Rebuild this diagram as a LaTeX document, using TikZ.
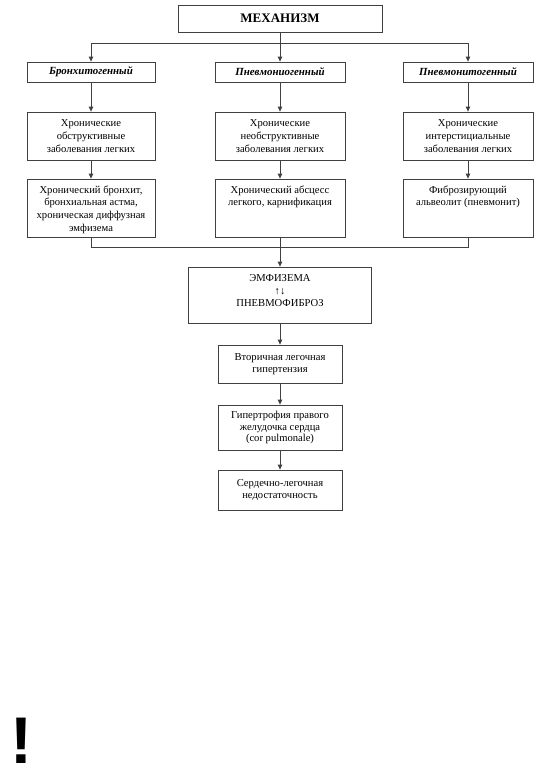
\documentclass[tikz,border=0pt]{standalone}
\usepackage{fontspec}
\setmainfont{Liberation Serif}
\newfontfamily\exfont{Liberation Sans}
\usetikzlibrary{arrows.meta}
\begin{document}
\begin{tikzpicture}[x=1pt,y=-1pt,
  line/.style={draw=black!75,line width=0.8pt},
  arr/.style={line,-{Triangle[length=5pt,width=4.5pt]}},
  box/.style={line,rectangle,inner sep=2pt,align=center,font=\fontsize{10.6}{12.8}\selectfont},
  headbox/.style={box,minimum width=128pt,minimum height=20pt,font=\bfseries\itshape\fontsize{10.9}{12}\selectfont},
  midbox/.style={box,minimum width=128pt,minimum height=48pt},
  lowbox/.style={box,minimum width=128pt,minimum height=58pt},
  inbox/.style={align=center,inner sep=0pt,font=\fontsize{10.6}{12.6}\selectfont},
  cbox/.style={box,minimum width=124pt,font=\fontsize{10.6}{12}\selectfont}
]
\useasboundingbox (0,0) rectangle (536,777);

\node[box,minimum width=204pt,minimum height=27pt,font=\bfseries\fontsize{13}{14}\selectfont] (mech) at (280,18.5) {МЕХАНИЗМ};

\node[headbox] (a2) at (91,72) {Бронхитогенный};
\node[headbox,minimum width=130pt] (b2) at (280,72) {Пневмониогенный};
\node[headbox,minimum width=130pt] (c2) at (468,72) {Пневмонитогенный};

\node[midbox] (a3) at (91,136) {Хронические\\обструктивные\\заболевания легких};
\node[midbox,minimum width=130pt] (b3) at (280,136) {Хронические\\необструктивные\\заболевания легких};
\node[midbox,minimum width=130pt] (c3) at (468,136) {Хронические\\интерстициальные\\заболевания легких};

\node[lowbox] (a4) at (91,208) {};
\node[lowbox,minimum width=130pt] (b4) at (280,208) {};
\node[lowbox,minimum width=130pt] (c4) at (468,208) {};
\node[inbox,anchor=north] (a4t) at ([yshift=-7pt]a4.north) {Хронический бронхит,\\бронхиальная астма,\\хроническая диффузная\\эмфизема};
\node[inbox,anchor=north] (b4t) at ([yshift=-7pt]b4.north) {Хронический абсцесс\\легкого, карнификация};
\node[inbox,anchor=north] (c4t) at ([yshift=-7pt]c4.north) {Фиброзирующий\\альвеолит (пневмонит)};

\node[box,minimum width=183pt,minimum height=56pt] (emf) at (280,295) {};
\node[inbox,font=\fontsize{10.6}{12.5}\selectfont] (emft) at ([yshift=4pt]emf.center) {ЭМФИЗЕМА\\↑↓\\ПНЕВМОФИБРОЗ};

\node[cbox,minimum height=38pt] (vt) at (280,364) {Вторичная легочная\\гипертензия};
\node[cbox,minimum height=45pt,font=\fontsize{10.6}{11.6}\selectfont] (gp) at (280,427.5) {Гипертрофия правого\\желудочка сердца\\(cor pulmonale)};
\node[cbox,minimum height=40pt] (sd) at (280,490) {Сердечно-легочная\\недостаточность};

\coordinate (split) at (280,43);
\coordinate (join) at (280,247);

\draw[line] (mech) -- (split);
\draw[arr] (split) -| (a2.north);
\draw[arr] (split) -| (c2.north);
\draw[arr] (split) -- (b2.north);

\draw[arr] (a2) -- (a3);
\draw[arr] (b2) -- (b3);
\draw[arr] (c2) -- (c3);
\draw[arr] (a3) -- (a4);
\draw[arr] (b3) -- (b4);
\draw[arr] (c3) -- (c4);

\draw[line] (a4.south) |- (join);
\draw[line] (c4.south) |- (join);
\draw[arr] (b4.south) -- (emf.north);
\draw[arr] (emf) -- (vt);
\draw[arr] (vt) -- (gp);
\draw[arr] (gp) -- (sd);

\node[inner sep=0pt,font=\exfont\bfseries\fontsize{66}{66}\selectfont] (excl) at (21,741) {!};
\end{tikzpicture}
\end{document}
